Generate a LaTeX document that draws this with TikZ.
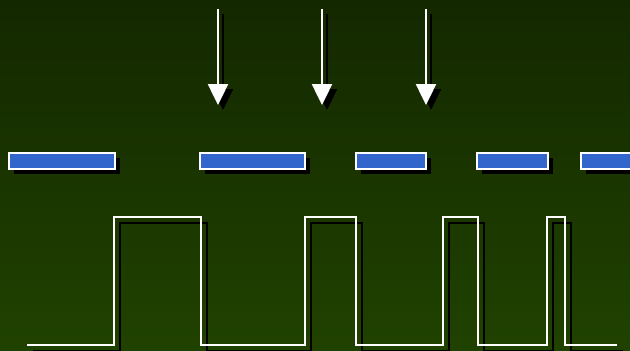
\documentclass[tikz,border=0pt]{standalone}
\usetikzlibrary{arrows.meta,shadows}
\definecolor{bgtop}{RGB}{20,40,0}
\definecolor{bgbot}{RGB}{32,66,0}
\definecolor{barblue}{RGB}{51,102,204}
\begin{document}
\begin{tikzpicture}[x=1pt,y=-1pt,
  bar/.style={rectangle, draw=white, line width=1.5pt, fill=barblue, minimum height=16pt, inner sep=0pt,
    drop shadow={shadow xshift=5pt, shadow yshift=-5pt, fill=black, opacity=1}},
  arr/.style={line width=2.5pt, -{Triangle[width=20pt,length=21pt]}},
  wave/.style={line width=2pt}]
\useasboundingbox (0,0) rectangle (630,351);
\clip (0,0) rectangle (630,351);
\fill[top color=bgtop, bottom color=bgbot] (0,0) rectangle (630,351);
% bars
\node[bar, minimum width=106pt] (b1) at (62,161) {};
\node[bar, minimum width=105pt] (b2) at (252.5,161) {};
\node[bar, minimum width=70pt] (b3) at (391,161) {};
\node[bar, minimum width=71pt] (b4) at (512.5,161) {};
\node[bar, minimum width=80pt] (b5) at (621,161) {};
% arrows
\foreach \x/\n in {218/a1,322/a2,426/a3}{
  \coordinate (\n s) at (\x,9);
  \coordinate (\n e) at (\x,105);
  \draw[arr, black] ([shift={(5,5)}]\n s) -- ([shift={(5,5)}]\n e);
  \draw[arr, white] (\n s) -- (\n e);
}
% square wave
\foreach \c/\dx in {black/5.5, white/0}{
\draw[wave, \c, shift={(\dx,\dx)}] (27,345) -- (114,345) -- (114,217) -- (201,217) -- (201,345)
  -- (305,345) -- (305,217) -- (356,217) -- (356,345) -- (443,345) -- (443,217) -- (478,217)
  -- (478,345) -- (547,345) -- (547,217) -- (565,217) -- (565,345) -- (617,345);
}
\end{tikzpicture}
\end{document}
